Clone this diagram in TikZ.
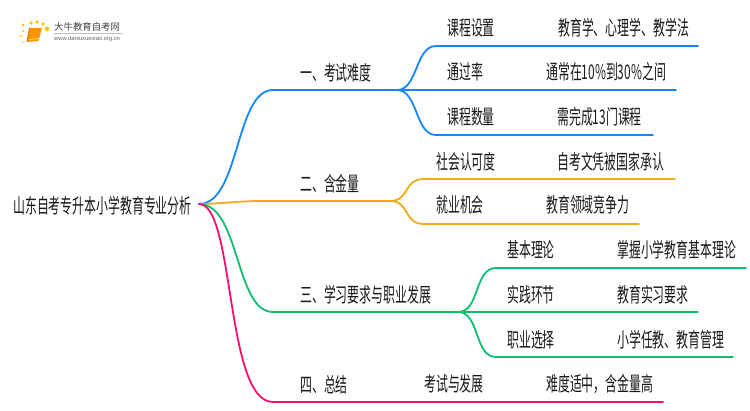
\documentclass[tikz,border=0pt]{standalone}
\usepackage{fontspec}
\setmainfont{Noto Sans CJK SC}
\newfontfamily\urlfont{Liberation Sans}
\definecolor{bluebr}{RGB}{20,135,250}
\definecolor{orangebr}{RGB}{245,170,25}
\definecolor{greenbr}{RGB}{15,190,110}
\definecolor{pinkbr}{RGB}{250,15,110}
\tikzset{
  lbl/.style = {anchor = west, inner sep = 0pt, font = \fontsize{11.9pt}{12pt}\selectfont, text = black!90, yscale = 1.7, transform shape},
  logolbl/.style = {anchor = west, inner sep = 0pt},
  branch/.style = {line width = 1.8pt, line cap = round},
  blueline/.style = {branch, bluebr},
  orangeline/.style = {branch, orangebr},
  greenline/.style = {branch, greenbr},
  pinkline/.style = {branch, pinkbr}
}
\begin{document}
\begin{tikzpicture}[x = 1pt, y = -1pt]
\useasboundingbox (0,0) rectangle (750,410);
% logo
\foreach \px/\py/\pr in {23/25/1.6,31/23/1.8,37/22/1.9,43/24/1.9,47/29/2.3,23/31/1.2,21/36/1.1,23/42/.9}
  \fill[orange!45!yellow] (\px,\py) circle (\pr);
\fill[orange!85!yellow] (29.5,28) -- (42,28) -- (38.5,41) -- (27,42) -- cycle;
\draw[orange!80!black, line width = .8pt] (27,42) -- (29.5,28);
\draw[white, line width = .5pt] (29,39.5) -- (39,38.5);
\node[logolbl, font = \fontsize{9.4pt}{10pt}\selectfont, text = black!75] (logotitle) at (54,27) {大牛教育自考网};
\draw[black!25, line width = .6pt] (54,33.5) -- (122,33.5);
\node[logolbl, font = \urlfont\fontsize{5.8pt}{6pt}\selectfont, text = black!60] (logourl) at (54,38.5) {www.daniuxuexiao.org.cn};
% root
\node[lbl] (root) at (13,205.5) {山东自考专升本小学教育专业分析};
\coordinate (rootend) at (199,204);
% branches
\coordinate (b1) at (273,90);   \coordinate (b1end) at (397,90);
\coordinate (b2) at (262,201);  \coordinate (b2end) at (390,201);
\coordinate (b3) at (273,312);  \coordinate (b3end) at (458,312);
\coordinate (b4) at (273,402);
\node[lbl] (t1) at (300,73) {一、考试难度};
\node[lbl] (t2) at (300,184) {二、含金量};
\node[lbl] (t3) at (300,295) {三、学习要求与职业发展};
\node[lbl] (t4) at (300,385) {四、总结};
\draw[blueline] (rootend) .. controls (240,204) and (235,90) .. (b1) -- (b1end);
\draw[orangeline] (rootend) .. controls (218,204) and (238,201) .. (b2) -- (b2end);
\draw[greenline] (rootend) .. controls (240,204) and (235,312) .. (b3) -- (b3end);
\draw[pinkline] (rootend) .. controls (235,204) and (225,402) .. (b4) -- (663,402);
% blue leaves
\node[lbl] (a1) at (447,28) {课程设置};
\node[lbl] (a2) at (447,72) {通过率};
\node[lbl] (a3) at (447,117) {课程数量};
\node[lbl] (a1v) at (558,28) {教育学、心理学、教学法};
\node[lbl] (a2v) at (546,72) {通常在10\%到30\%之间};
\node[lbl] (a3v) at (557,117) {需完成13门课程};
\draw[blueline] (b1end) .. controls (418,90) and (415,46) .. (436,46) -- (698,46);
\draw[blueline] (b1end) -- (676,90);
\draw[blueline] (b1end) .. controls (418,90) and (415,135) .. (436,135) -- (653,135);
% orange leaves
\node[lbl] (c1) at (436,162) {社会认可度};
\node[lbl] (c2) at (436,205) {就业机会};
\node[lbl] (c1v) at (557,162) {自考文凭被国家承认};
\node[lbl] (c2v) at (546,205) {教育领域竞争力};
\draw[orangeline] (b2end) .. controls (410,201) and (403,179) .. (424,179) -- (675,179);
\draw[orangeline] (b2end) .. controls (410,201) and (403,224) .. (424,224) -- (639,224);
% green leaves
\node[lbl] (d1) at (507,250) {基本理论};
\node[lbl] (d2) at (507,295) {实践环节};
\node[lbl] (d3) at (507,340) {职业选择};
\node[lbl] (d1v) at (617,250) {掌握小学教育基本理论};
\node[lbl] (d2v) at (617,295) {教育实习要求};
\node[lbl] (d3v) at (617,340) {小学任教、教育管理};
\draw[greenline] (b3end) .. controls (480,312) and (474,268) .. (496,268) -- (746,268);
\draw[greenline] (b3end) -- (698,312);
\draw[greenline] (b3end) .. controls (480,312) and (474,357) .. (496,357) -- (733,357);
% summary
\node[lbl] (e1) at (424,384) {考试与发展};
\node[lbl] (e1v) at (546,384) {难度适中，含金量高};
\end{tikzpicture}
\end{document}
